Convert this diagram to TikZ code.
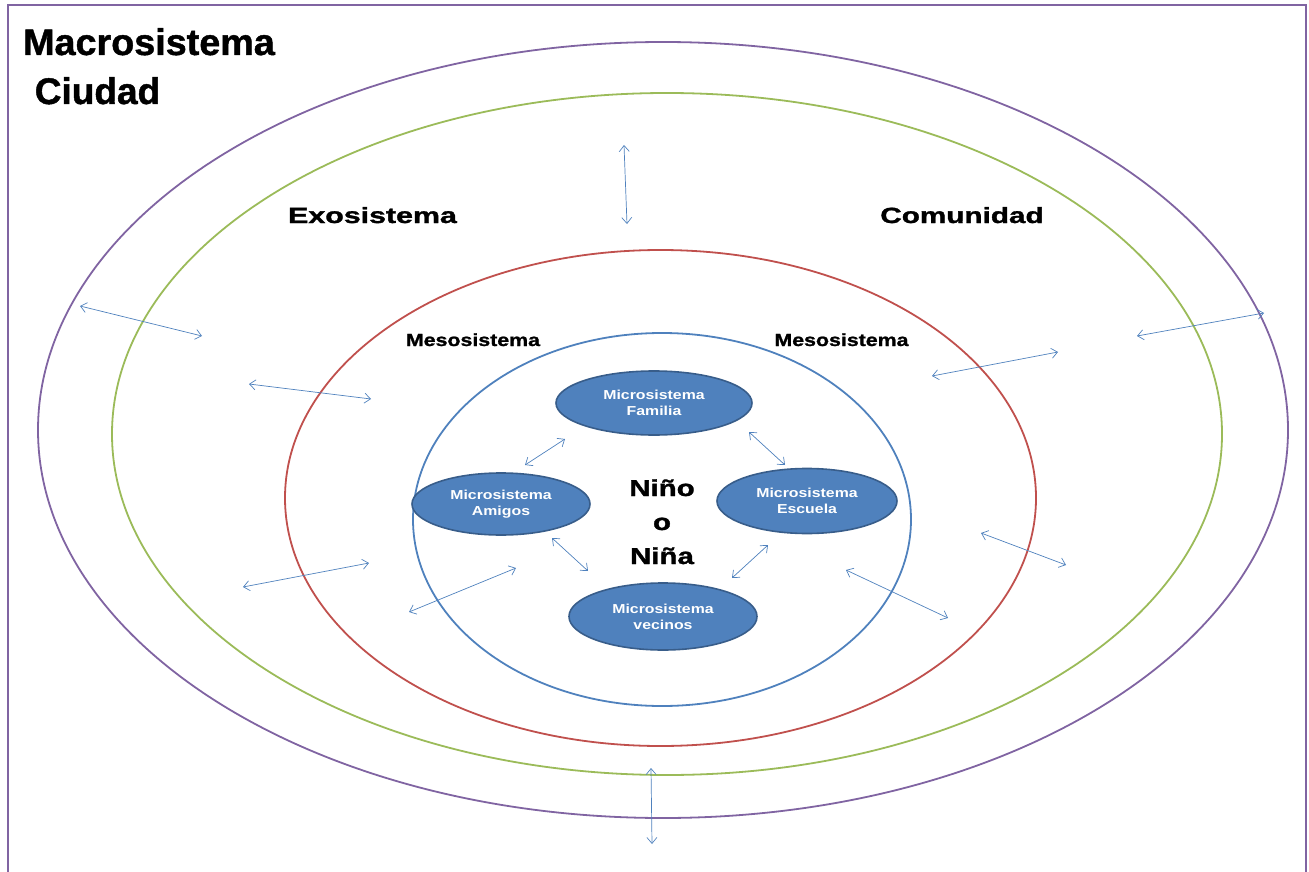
\documentclass[tikz,border=0pt]{standalone}
\usepackage{fontspec}
\setmainfont{Liberation Sans}
\newfontfamily\gruesa{Liberation Sans Bold}[FakeBold=1.2]
\usetikzlibrary{arrows.meta}
\usetikzlibrary{shapes.geometric}

\definecolor{macro}{HTML}{8064A2}
\definecolor{exo}{HTML}{9BBB59}
\definecolor{meso}{HTML}{C0504D}
\definecolor{micro}{HTML}{4F81BD}
\definecolor{microborde}{HTML}{385D8A}

\newcommand{\ancho}[2]{\scalebox{#1}[1]{#2}}

\tikzset{
  anillo/.style={line width=1.8pt},
  flecha/.style={draw=micro, line width=0.7pt,
    {Straight Barb[length=6pt,width=10pt]}-{Straight Barb[length=6pt,width=10pt]}},
  microsis/.style={ellipse, draw=microborde, line width=1.6pt, fill=micro,
    text=white, inner sep=0pt, align=center,
    font=\bfseries\fontsize{13}{16}\selectfont},
  titulo/.style={anchor=base, inner sep=0pt, font=\gruesa\fontsize{37}{40}\selectfont},
  sistema/.style={anchor=base, inner sep=0pt, font=\gruesa\fontsize{22}{24}\selectfont},
  nene/.style={anchor=base, inner sep=0pt, font=\gruesa\fontsize{23}{24}\selectfont},
  meso texto/.style={anchor=base, inner sep=0pt, font=\gruesa\fontsize{17.5}{20}\selectfont}
}

\begin{document}
\begin{tikzpicture}[x=1pt, y=-1pt]
\useasboundingbox (0,0) rectangle (1309,872);
\draw[macro, line width=1.8pt] (8,872) |- (1306,5) -- (1306,872);

\draw[anillo, macro] (663,430) ellipse [x radius=625, y radius=388];
\draw[anillo, exo] (667,434) ellipse [x radius=555, y radius=341];
\draw[anillo, meso] (660.5,498) ellipse [x radius=375.5, y radius=248];
\draw[anillo, micro] (662,519.5) ellipse [x radius=249, y radius=186.5];

\node[titulo] (macrosistema) at (149,55) {\ancho{1.02}{Macrosistema}};
\node[titulo] (ciudad) at (97.5,104) {Ciudad};
\node[sistema] (exosistema) at (372.5,223) {\ancho{1.38}{Exosistema}};
\node[sistema] (comunidad) at (962,223) {\ancho{1.35}{Comunidad}};
\node[meso texto] (meso izq) at (473,346) {\ancho{1.22}{Mesosistema}};
\node[meso texto] (meso der) at (841.5,346) {\ancho{1.22}{Mesosistema}};

\node[nene] (nino) at (662,496) {\ancho{1.28}{Niño}};
\node[nene] (o) at (662,530) {\ancho{1.28}{o}};
\node[nene] (nina) at (662,564) {\ancho{1.28}{Niña}};

\node[microsis, minimum width=196pt, minimum height=64pt] (familia) at (654,403)
  {\ancho{1.22}{Microsistema}\\\ancho{1.22}{Familia}};
\node[microsis, minimum width=178pt, minimum height=62pt] (amigos) at (501,504)
  {\ancho{1.22}{Microsistema}\\\ancho{1.22}{Amigos}};
\node[microsis, minimum width=180pt, minimum height=65pt] (escuela) at (807,501)
  {\ancho{1.22}{Microsistema}\\\ancho{1.22}{Escuela}};
\node[microsis, minimum width=188pt, minimum height=67pt] (vecinos) at (663,616.5)
  {\ancho{1.22}{Microsistema}\\\ancho{1.22}{vecinos}};

\foreach \n/\xa/\ya/\xb/\yb in {arriba/624/145/627/224, abajo/651/768/652/844,
    izq1/80/306/202/336, izq2/249/384/371/399, izq3/243/587/369/563,
    izq4/409/612/516/568, der1/932/376/1058/352, der2/1137/336/1264/313,
    der3/846/570/948/618, der4/981/533/1066/565,
    fam-ami/525/465/565/439, fam-esc/749/432/785/465,
    ami-vec/552/538/588/571, esc-vec/732/578/768/545}{
  \coordinate (\n-a) at (\xa,\ya);
  \coordinate (\n-b) at (\xb,\yb);
  \draw[flecha] (\n-a) -- (\n-b);
}
\end{tikzpicture}
\end{document}
